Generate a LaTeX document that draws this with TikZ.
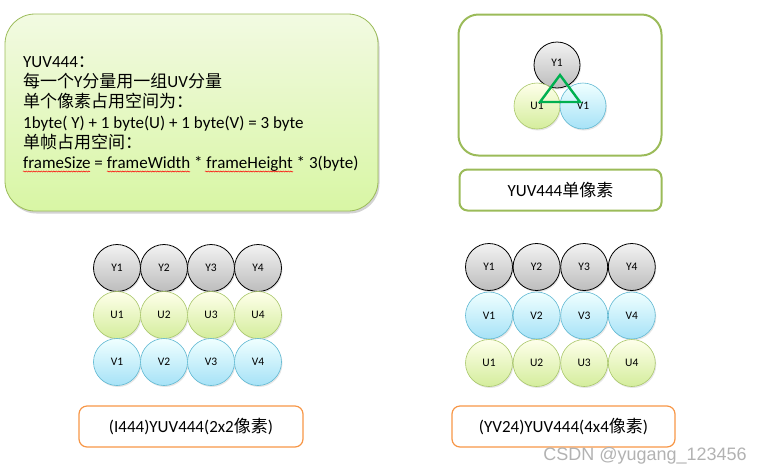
\documentclass[tikz,border=0pt]{standalone}
\usepackage{fontspec}
\setmainfont{Carlito}
\newfontfamily\cjk{Noto Sans CJK SC}
\newfontfamily\wmfont{Liberation Sans}
\usetikzlibrary{shadows,decorations.pathmorphing}

\definecolor{boxgreen}{HTML}{9BBB59}
\definecolor{boxorange}{HTML}{F79646}
\definecolor{trigreen}{HTML}{00B050}
\definecolor{ugreen}{HTML}{A9C76A}
\definecolor{vblue}{HTML}{5FB8D2}

\newcommand{\zh}[1]{{\cjk #1}}

\begin{document}
\begin{tikzpicture}[x=1pt,y=-1pt,
  pix/.style={circle,minimum size=47pt,inner sep=0pt,
    font=\fontsize{11.5}{12}\selectfont,
    drop shadow={opacity=0.2,shadow xshift=1pt,shadow yshift=-1.5pt}},
  ypix/.style={pix,draw=black,line width=0.8pt,top color=gray!10,bottom color=gray!52},
  upix/.style={pix,draw=ugreen,line width=0.6pt,top color=green!4!yellow!8,bottom color={rgb,255:red,212;green,237;blue,156}},
  vpix/.style={pix,draw=vblue,line width=0.6pt,top color=cyan!6,bottom color={rgb,255:red,166;green,226;blue,247}},
  labelbox/.style={draw=boxorange,line width=1.2pt,rounded corners=8pt,
    minimum height=41pt,font=\fontsize{17}{18}\selectfont},
  line/.style={anchor=base west,inner sep=0pt,font=\fontsize{17}{18}\selectfont},
  spell/.style={red,line width=0.5pt,decorate,
    decoration={snake,amplitude=0.6pt,segment length=2.5pt}}
]
\useasboundingbox (0,0) rectangle (763,475);

% formula box
\node[draw=boxgreen,line width=0.8pt,rounded corners=30pt,
  top color={rgb,255:red,242;green,250;blue,226},
  bottom color={rgb,255:red,216;green,246;blue,164},
  minimum width=373pt,minimum height=197pt,
  drop shadow={opacity=0.35,shadow xshift=1.5pt,shadow yshift=-2.5pt}]
  (info) at (191.5,112.5) {};
\node[line] (l1) at (23,67) {YUV444\zh{：}};
\node[line] (l2) at (23,87) {\zh{每一个}Y\zh{分量用一组}UV\zh{分量}};
\node[line] (l3) at (23,107) {\zh{单个像素占用空间为：}};
\node[line] (l4) at (23,128) {1byte( Y) + 1 byte(U) + 1 byte(V) = 3 byte};
\node[line] (l5) at (23,148) {\zh{单帧占用空间：}};
\node[line] (l6) at (23,168) {frameSize = frameWidth * frameHeight * 3(byte)};
\draw[spell] (23,171.5) -- (90,171.5);
\draw[spell] (107,171.5) -- (190,171.5);
\draw[spell] (205,171.5) -- (293,171.5);

% single pixel
\node[draw=boxgreen,line width=2pt,rounded corners=20pt,
  minimum width=203pt,minimum height=141pt] (single) at (560,85) {};
\node[ypix,minimum size=46pt] (sy) at (557,65) {};
\node[anchor=center] at (557,63) {\fontsize{11.5}{12}\selectfont Y1};
\node[upix,minimum size=46pt] (su) at (537,106) {U1};
\node[vpix,minimum size=46pt] (sv) at (583,106) {V1};
\coordinate (t1) at (560,75);
\coordinate (t2) at (540,102);
\coordinate (t3) at (580,102);
\draw[trigreen,line width=2.4pt,line join=miter] (t1) -- (t2) -- (t3) -- cycle;
\node[draw=boxgreen,line width=2pt,rounded corners=8pt,
  minimum width=202pt,minimum height=41pt,font=\fontsize{17}{18}\selectfont]
  (singlelabel) at (560.5,190) {YUV444\zh{单像素}};

% I444
\foreach \c in {1,...,4} {
  \node[ypix] (iy\c) at ({117+47*(\c-1)},268) {Y\c};
  \node[upix] (iu\c) at ({117+47*(\c-1)},315) {U\c};
  \node[vpix] (iv\c) at ({117+47*(\c-1)},362) {V\c};
}
\node[labelbox,minimum width=224pt] (ilabel) at (191,426.5) {(I444)YUV444(2x2\zh{像素})};

% YV24
\foreach \c in {1,...,4} {
  \node[ypix] (vy\c) at ({489+47.6*(\c-1)},267) {Y\c};
  \node[vpix] (vv\c) at ({489+47.6*(\c-1)},315.5) {V\c};
  \node[upix] (vu\c) at ({489+47.6*(\c-1)},363) {U\c};
}
\node[labelbox,minimum width=223pt] (vlabel) at (563.5,426.5) {(YV24)YUV444(4x4\zh{像素})};

\node[text=gray!60,font=\wmfont\fontsize{18}{20}\selectfont] (mark) at (645,456) {CSDN @yugang\_123456};
\end{tikzpicture}
\end{document}
